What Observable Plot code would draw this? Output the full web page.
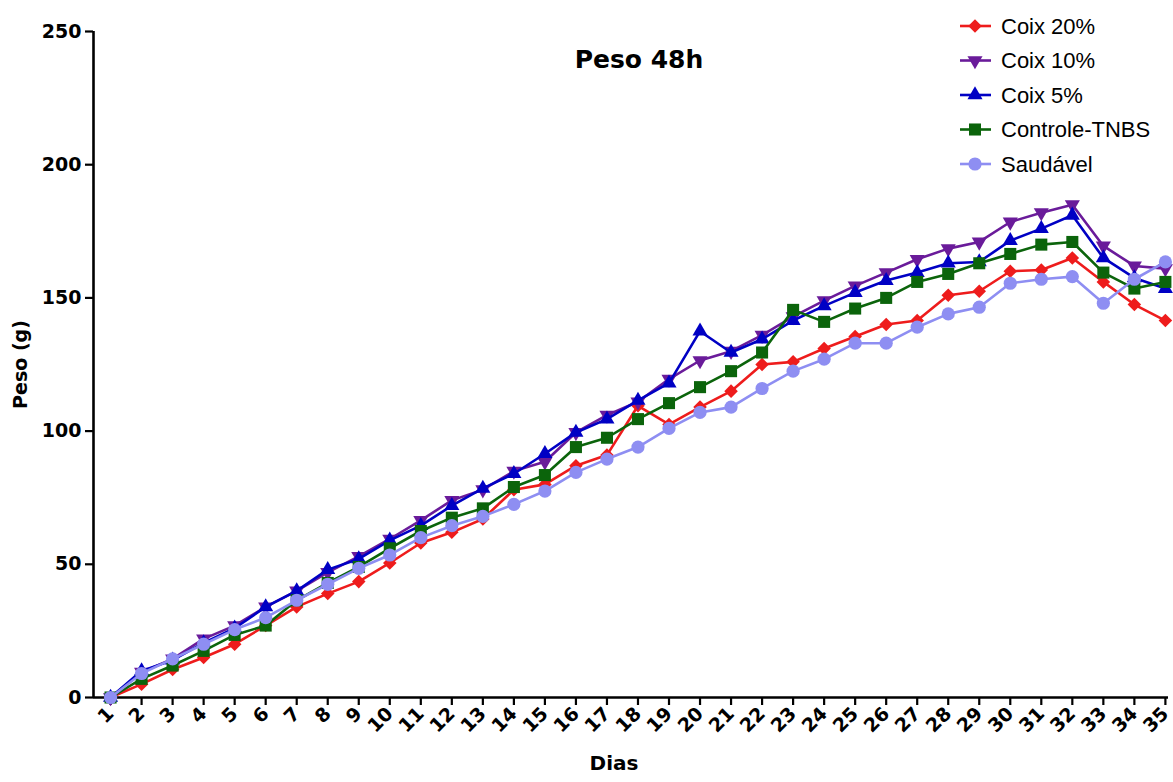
<!DOCTYPE html>
<html>
<head>
<meta charset="utf-8">
<script src="https://cdn.jsdelivr.net/npm/d3@7"></script>
<script src="https://cdn.jsdelivr.net/npm/@observablehq/plot@0.6"></script>
<style>
  html, body { margin: 0; padding: 0; background: #fff; }
  #wrap { position: relative; width: 1173px; height: 782px; }
  #legend { position: absolute; left: 955px; top: 9px; }
  #legend text { font-family: "Liberation Sans", Arial, sans-serif; }
  g[aria-label="y-axis tick label"] text { font-family: "DejaVu Sans", sans-serif; font-size: 19px; font-weight: bold; }
  g[aria-label="x-axis tick label"] text { font-family: "DejaVu Sans", sans-serif; font-size: 19px; font-weight: bold; }
</style>
</head>
<body>
<div id="wrap"><div id="chart"></div><div id="legend"></div></div>
<script>
const days = [1,2,3,4,5,6,7,8,9,10,11,12,13,14,15,16,17,18,19,20,21,22,23,24,25,26,27,28,29,30,31,32,33,34,35];
const yTicks = [0, 50, 100, 150, 200, 250];
const seriesNames = ["Coix 20%", "Coix 10%", "Coix 5%", "Controle-TNBS", "Saudável"];

const coix20 = [0,5,10.5,15,20,27,34,39,43.5,50.5,58,62,67,78,80,87,91,109.5,102.5,109,115,125,126,131,135.5,140,141.5,151,152.5,160,160.5,165,156,147.5,141.5];
const coix10 = [0,9.5,14.5,22,27,34,40,47,53,59.5,66.5,74,78,85,88.5,99.5,106,111,119.5,126.5,130,136,143,149,154.5,159.5,164.5,168.5,171,178.5,182,185,169.5,162,161];
const coix5 = [0,10,14,20.5,26,34,40,48,52,59,64.5,72,78.5,84,91.5,99.5,104.5,111.5,118,137.5,129.5,134.5,141.5,147,152,156.5,159.5,163,163.5,171.5,176,181,165,157.5,153.5];
const controle = [0,7,12,17.5,23.5,27,36.5,43,49,56,62.5,67.5,71,79,83.5,94,97.5,104.5,110.5,116.5,122.5,129.5,145.5,141,146,150,156,159,163,166.5,170,171,159.5,153.5,156];
const saudavel = [0,9,14.5,20,25.5,30,36.5,42.5,48.5,53.5,60,64.5,68,72.5,77.5,84.5,89.5,94,101,107,109,116,122.5,127,133,133,139,144,146.5,155.5,157,158,148,157,163.5];

const colors = ["#ee1c1c", "#6a1b9a", "#0000c4", "#0b640b", "#8e8ef2"];
const symbols = ["square", "triangle", "triangle", "square", "circle"];
const rotations = [45, 180, 0, 0, 0];
const radii = [5.4, 5.6, 5.6, 6.8, 6.6];
const valuesList = [coix20, coix10, coix5, controle, saudavel];

const marks = [];
valuesList.forEach((vals, i) => {
  const rows = days.map((d, j) => ({day: d, peso: vals[j]}));
  marks.push(Plot.line(rows, {x: "day", y: "peso", stroke: colors[i], strokeWidth: 2.6}));
  marks.push(Plot.dot(rows, {x: "day", y: "peso", fill: colors[i], symbol: symbols[i], r: radii[i], rotate: rotations[i]}));
});

const bold = "DejaVu Sans, sans-serif";
const xStart = 0.45;
const chart = Plot.plot({
  width: 1173,
  height: 782,
  marginTop: 31,
  marginBottom: 85,
  marginLeft: 93,
  marginRight: 5,
  style: {fontFamily: "Liberation Sans, Arial, sans-serif", background: "#fff"},
  x: {type: "linear", domain: [xStart, 35.1]},
  y: {domain: [0, 250]},
  marks: [
    Plot.axisY({ticks: yTicks, tickSize: 8, tickPadding: 4, label: null, strokeWidth: 2.2}),
    Plot.axisX({ticks: days, tickSize: 8, tickPadding: 5, tickRotate: -45, label: null, tickFormat: d => String(d), strokeWidth: 2.2}),
    Plot.ruleX([xStart], {strokeWidth: 2.6}),
    Plot.ruleY([0], {strokeWidth: 2.6}),
    ...marks,
    Plot.text(["Peso 48h"], {frameAnchor: "top", dx: 8, dy: 19, fontSize: 25, fontWeight: "bold", fontFamily: bold}),
    Plot.text(["Peso (g)"], {frameAnchor: "left", dx: -73, rotate: -90, textAnchor: "middle", fontSize: 19, fontWeight: "bold", fontFamily: bold}),
    Plot.text(["Dias"], {frameAnchor: "bottom", dx: -17, dy: 72, fontSize: 20, fontWeight: "bold", fontFamily: bold})
  ]
});
document.getElementById("chart").appendChild(chart);

// Legend
const lg = d3.select("#legend").append("svg").attr("width", 218).attr("height", 175);
seriesNames.forEach((name, i) => {
  const cy = 17 + i * 34.5;
  const g = lg.append("g").attr("transform", `translate(0,${cy})`);
  g.append("line").attr("x1", 5).attr("x2", 36).attr("y1", 0).attr("y2", 0)
    .attr("stroke", colors[i]).attr("stroke-width", 2.6);
  const sym = {triangle: d3.symbolTriangle, square: d3.symbolSquare, circle: d3.symbolCircle}[symbols[i]];
  g.append("path").attr("d", d3.symbol(sym, Math.PI * radii[i] * radii[i])())
    .attr("transform", `translate(20,0) rotate(${rotations[i]})`).attr("fill", colors[i]);
  g.append("text").attr("x", 46).attr("y", 0).attr("dy", "0.35em")
    .attr("font-size", 22).attr("fill", "#000").text(name);
});
</script>
</body>
</html>
